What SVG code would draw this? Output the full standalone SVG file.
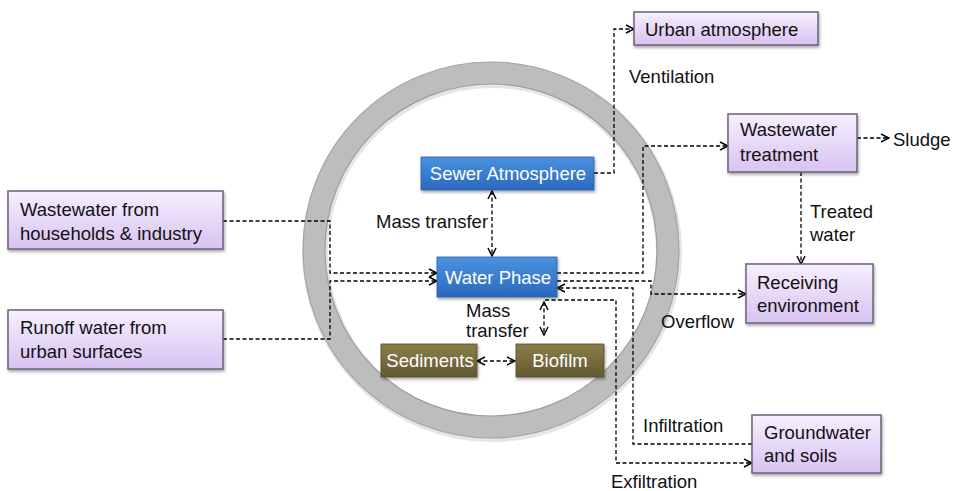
<svg xmlns="http://www.w3.org/2000/svg" width="955" height="491" viewBox="0 0 955 491">
<defs>
<linearGradient id="gPurple" x1="0" y1="0" x2="0" y2="1">
<stop offset="0" stop-color="#f6f0fd"/>
<stop offset="1" stop-color="#d8c2f2"/>
</linearGradient>
<linearGradient id="gBlue" x1="0" y1="0" x2="0" y2="1">
<stop offset="0" stop-color="#4b92e0"/>
<stop offset="1" stop-color="#2a69bd"/>
</linearGradient>
<linearGradient id="gOlive" x1="0" y1="0" x2="0" y2="1">
<stop offset="0" stop-color="#8a7f4a"/>
<stop offset="1" stop-color="#625832"/>
</linearGradient>
<filter id="sh" x="-10%" y="-10%" width="125%" height="135%">
<feDropShadow dx="1" dy="2" stdDeviation="1.5" flood-color="#000" flood-opacity="0.35"/>
</filter>
<marker id="ar" viewBox="0 0 10 10" refX="9" refY="5" markerWidth="10" markerHeight="10" markerUnits="userSpaceOnUse" orient="auto-start-reverse">
<path d="M1,1 L9,5 L1,9" fill="none" stroke="#000" stroke-width="1.5"/>
</marker>
</defs>
<style>
.pb{fill:url(#gPurple);stroke:#6e6078;stroke-width:1.5;filter:url(#sh)}
.bb{fill:url(#gBlue);stroke:#2a5ea8;stroke-width:0.8;filter:url(#sh)}
.ob{fill:url(#gOlive);stroke:#554b28;stroke-width:0.8;filter:url(#sh)}
.t{font-family:"Liberation Sans",Arial,sans-serif;font-size:18.5px;fill:#111}
.w{font-family:"Liberation Sans",Arial,sans-serif;font-size:18.5px;fill:#fff}
.c{fill:none;stroke:#000;stroke-width:1.3;stroke-dasharray:4 2.5}
</style>
<g id="ring">
<circle cx="491" cy="250" r="177" fill="none" stroke="#000" stroke-opacity="0.1" stroke-width="26" transform="translate(1,2)"/>
<circle cx="491" cy="250" r="177" fill="none" stroke="#bdbdbd" stroke-width="22"/>
<circle cx="491" cy="250" r="188" fill="none" stroke="#a4a4a4" stroke-width="1.2"/>
<circle cx="491" cy="250" r="166" fill="none" stroke="#9c9c9c" stroke-width="1.2"/>
</g>
<g id="connectors">
<path class="c" d="M223,221 H330 V273 H437" marker-end="url(#ar)"/>
<path class="c" d="M223,339 H330 V281 H437" marker-end="url(#ar)"/>
<path class="c" d="M594,173 H614 V29 H634" marker-end="url(#ar)"/>
<path class="c" d="M492,191 V256" marker-start="url(#ar)" marker-end="url(#ar)"/>
<path class="c" d="M544,302 V335" marker-start="url(#ar)" marker-end="url(#ar)"/>
<path class="c" d="M477,361 H515" marker-start="url(#ar)" marker-end="url(#ar)"/>
<path class="c" d="M557,273 H643 V146 H728" marker-end="url(#ar)"/>
<path class="c" d="M557,281 H651 V294 H746" marker-end="url(#ar)"/>
<path class="c" d="M752,444 H633 V288 H557" marker-end="url(#ar)"/>
<path class="c" d="M545,300 H616 V463 H752" marker-end="url(#ar)"/>
<path class="c" d="M801,172 V264" marker-end="url(#ar)"/>
<path class="c" d="M857,138 H889" marker-end="url(#ar)"/>
</g>
<g id="labels">
<text class="t" x="629" y="83">Ventilation</text>
<text class="t" x="376" y="228">Mass transfer</text>
<text class="t" x="466" y="317">Mass</text>
<text class="t" x="466" y="337">transfer</text>
<text class="t" x="810" y="218">Treated</text>
<text class="t" x="810" y="241">water</text>
<text class="t" x="661" y="328">Overflow</text>
<text class="t" x="643" y="432">Infiltration</text>
<text class="t" x="611" y="488">Exfiltration</text>
<text class="t" x="893" y="146">Sludge</text>
</g>
<g id="n-households">
<rect class="pb" x="8" y="191" width="215" height="58"/>
<text class="t" x="20" y="216">Wastewater from</text>
<text class="t" x="20" y="240">households &amp; industry</text>
</g>
<g id="n-runoff">
<rect class="pb" x="8" y="310" width="215" height="59"/>
<text class="t" x="20" y="334">Runoff water from</text>
<text class="t" x="20" y="358">urban surfaces</text>
</g>
<g id="n-sewer-atm">
<rect class="bb" x="421" y="157" width="173" height="33"/>
<text class="w" x="508" y="180" text-anchor="middle">Sewer Atmosphere</text>
</g>
<g id="n-water">
<rect class="bb" x="437" y="257" width="120" height="40"/>
<text class="w" x="498" y="284" text-anchor="middle">Water Phase</text>
</g>
<g id="n-sediments">
<rect class="ob" x="381" y="344" width="96" height="33"/>
<text class="w" x="430" y="367" text-anchor="middle">Sediments</text>
</g>
<g id="n-biofilm">
<rect class="ob" x="516" y="344" width="88" height="33"/>
<text class="w" x="560" y="367" text-anchor="middle">Biofilm</text>
</g>
<g id="n-urban-atm">
<rect class="pb" x="634" y="12" width="184" height="33"/>
<text class="t" x="645" y="36">Urban atmosphere</text>
</g>
<g id="n-wwtp">
<rect class="pb" x="728" y="114" width="129" height="58"/>
<text class="t" x="740" y="136">Wastewater</text>
<text class="t" x="740" y="161">treatment</text>
</g>
<g id="n-receiving">
<rect class="pb" x="746" y="264" width="127" height="59"/>
<text class="t" x="757" y="289">Receiving</text>
<text class="t" x="757" y="312">environment</text>
</g>
<g id="n-groundwater">
<rect class="pb" x="752" y="415" width="129" height="58"/>
<text class="t" x="764" y="439">Groundwater</text>
<text class="t" x="764" y="462">and soils</text>
</g>
</svg>
